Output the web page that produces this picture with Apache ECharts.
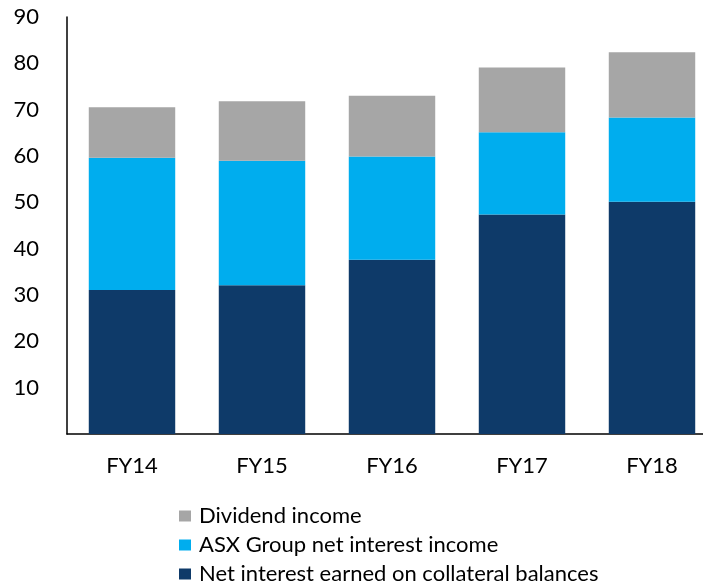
<!DOCTYPE html>
<html><head><meta charset="utf-8">
<script src="https://cdn.jsdelivr.net/npm/echarts@6/dist/echarts.min.js"></script>
<style>html,body{margin:0;padding:0;background:#fff}#c{width:703px;height:584px}</style>
</head><body><div id="c"></div>
<script>
const categories = ['FY14','FY15','FY16','FY17','FY18'];
const collateral = [31.1, 32.1, 37.6, 47.4, 50.1];
const asxInterest = [28.5, 26.9, 22.3, 17.7, 18.2];
const dividend = [10.9, 12.8, 13.1, 14.0, 14.1];
const yTicks = [0,10,20,30,40,50,60,70,80,90];
const legendNames = ['Dividend income','ASX Group net interest income','Net interest earned on collateral balances'];

const font = 'Lato, "Open Sans", sans-serif';
const fs = 22;
const legendTops = [505, 534, 563];
const chart = echarts.init(document.getElementById('c'));
chart.setOption({
  animation: false,
  grid: {left: 67, top: 17, width: 650, height: 417, containLabel: false, outerBoundsMode: 'none'},
  legend: legendNames.map((n, i) => ({
    orient: 'vertical', left: 179, top: legendTops[i], padding: 0,
    itemWidth: 12, itemHeight: 11,
    icon: 'rect',
    textStyle: {fontFamily: font, fontSize: fs, lineHeight: 22, color: '#000', padding: [0,0,0,3]},
    data: [n]
  })),
  xAxis: {
    type: 'category', data: categories,
    axisLine: {lineStyle: {color: '#000', width: 1.5}},
    axisTick: {show: false},
    axisLabel: {fontFamily: font, fontSize: fs, color: '#000', margin: 21}
  },
  yAxis: {
    type: 'value', min: yTicks[0], max: yTicks[yTicks.length-1], interval: 10,
    axisLine: {show: true, lineStyle: {color: '#000', width: 1.5}},
    axisTick: {show: false},
    splitLine: {show: false},
    axisLabel: {fontFamily: font, fontSize: fs, color: '#000', margin: 28, showMinLabel: false}
  },
  series: [
    {name: legendNames[2], type: 'bar', stack: 't', data: collateral,
     barCategoryGap: '33.5%', itemStyle: {color: '#0E3A69'}},
    {name: legendNames[1], type: 'bar', stack: 't', data: asxInterest,
     itemStyle: {color: '#00ADEE'}},
    {name: legendNames[0], type: 'bar', stack: 't', data: dividend,
     itemStyle: {color: '#A6A6A6'}}
  ]
});
</script></body></html>
